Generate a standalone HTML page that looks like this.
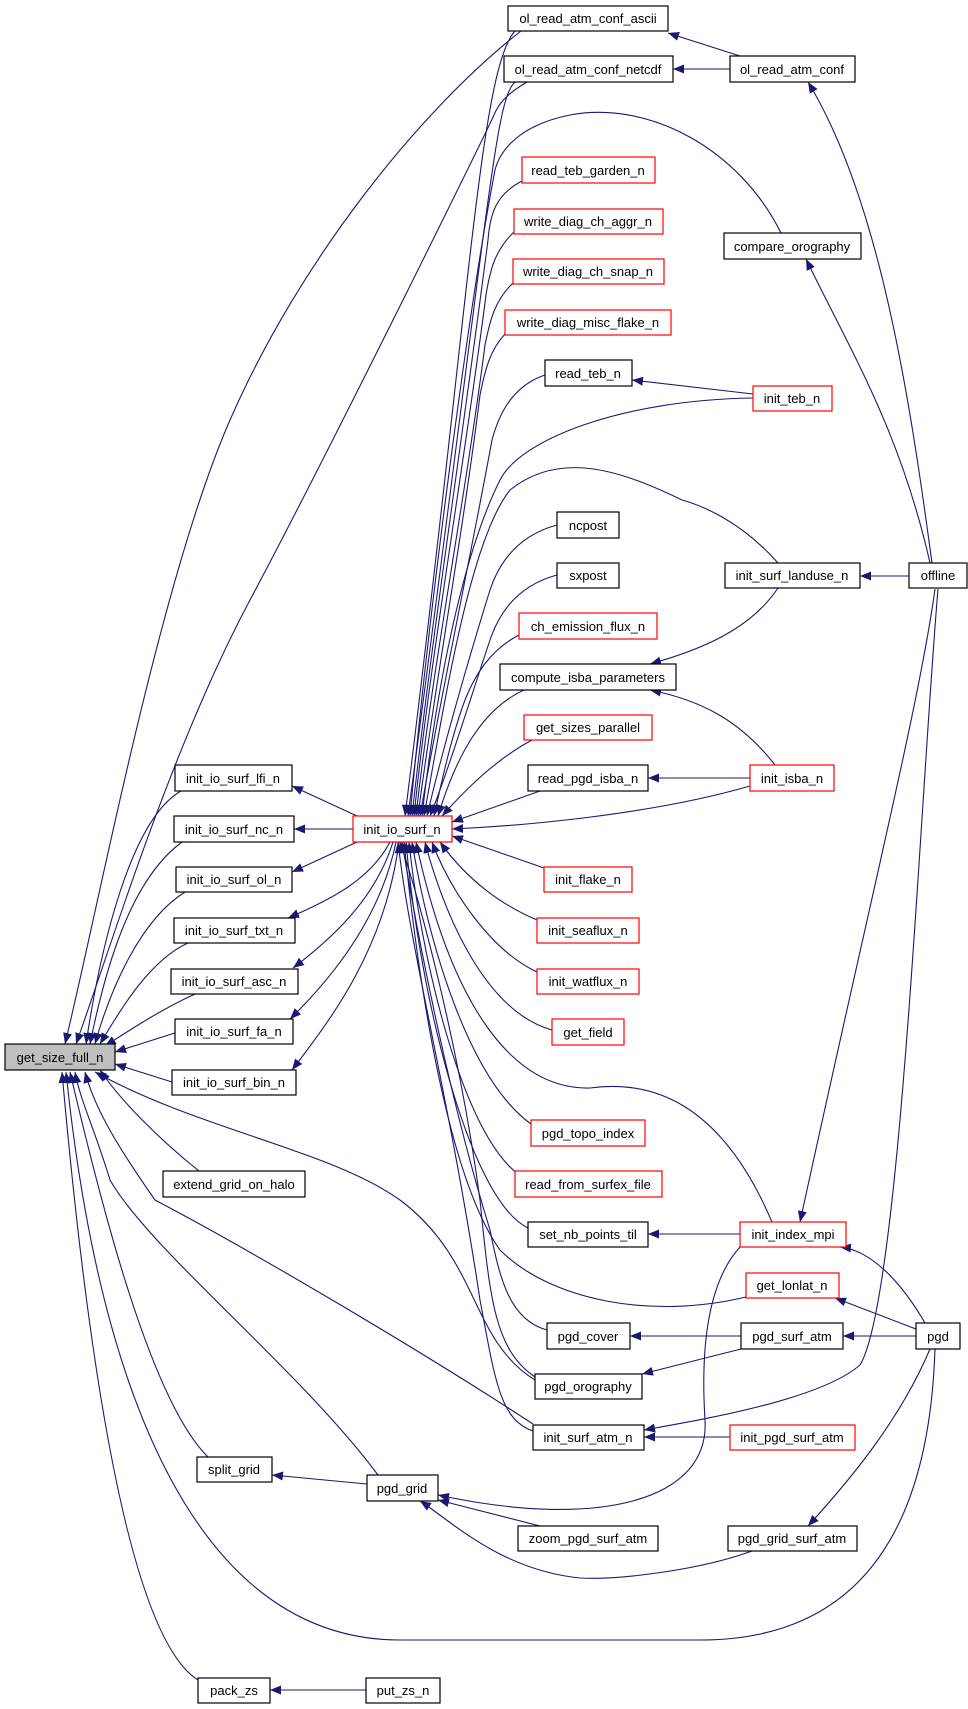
<!DOCTYPE html>
<html><head><meta charset="utf-8"><style>
html,body{margin:0;padding:0;background:#fff}
svg{display:block}
text{font-family:"Liberation Sans",Arial,sans-serif;font-size:13px;fill:#000}
.e{fill:none;stroke:#191970;stroke-width:1.1}
.n{fill:#fff;stroke:#000;stroke-width:1.2}
.r{fill:#fff;stroke:#ff0000;stroke-width:1.2}
.g{fill:#bfbfbf;stroke:#000;stroke-width:1.2}
</style></head><body>
<svg width="968" height="1709" viewBox="0 0 968 1709" xmlns="http://www.w3.org/2000/svg">
<defs><marker id="a" markerUnits="userSpaceOnUse" markerWidth="12" markerHeight="9" refX="11" refY="4.5" orient="auto"><path d="M0,0 L11,4.5 L0,9 z" fill="#191970"/></marker></defs>
<g class="e" marker-end="url(#a)">
<!-- to get_size_full_n -->
<path d="M521,31 C420,110 300,260 230,420 S100,900 65,1044"/>
<path d="M527,82 C505,95 498,105 494,115 S330,450 250,600 S110,950 76,1044"/>
<path d="M181,791 C130,820 100,950 86,1044"/>
<path d="M182,842 C130,880 105,970 90,1044"/>
<path d="M185,892 C140,920 110,990 95,1044"/>
<path d="M188,943 C150,960 120,1010 100,1044"/>
<path d="M195,994 C160,1010 130,1030 105,1046"/>
<path d="M175,1033 L115,1052"/>
<path d="M172,1082 L115,1064"/>
<path d="M199,1171 C160,1140 120,1100 100,1070"/>
<path d="M535,1380 C470,1340 480,1260 400,1200 C330,1150 200,1130 95,1072"/>
<path d="M533,1424 C420,1350 250,1250 155,1200 C120,1150 95,1110 85,1072"/>
<path d="M378,1475 C300,1370 150,1250 110,1180 C95,1130 80,1100 75,1072"/>
<path d="M208,1457 C150,1400 100,1200 70,1072"/>
<path d="M935,1349 C930,1500 880,1640 700,1640 L400,1640 C200,1640 100,1400 66,1072"/>
<path d="M198,1680 C150,1650 100,1500 62,1072"/>
<!-- to init_io_surf_n -->
<path d="M515,31 C480,70 470,300 405,816"/>
<path d="M515,82 C495,100 490,200 408,816"/>
<path d="M781,233 C740,150 650,100 570,115 C520,125 500,150 495,170 C470,300 430,600 410,816"/>
<path d="M522,181 C495,195 490,215 488,240 C465,420 430,650 412,816"/>
<path d="M514,232 C495,250 490,270 486,295 C465,460 430,660 414,816"/>
<path d="M513,283 C495,300 490,320 485,345 C465,500 432,670 416,816"/>
<path d="M505,334 C490,350 485,370 480,395 C462,540 434,690 418,816"/>
<path d="M545,375 C515,385 500,410 492,440 C470,560 440,700 420,816"/>
<path d="M753,398 C620,400 520,440 500,480 C460,560 435,700 422,816"/>
<path d="M778,563 C740,520 700,505 682,500 C620,470 560,450 510,490 C470,540 445,700 424,816"/>
<path d="M557,525 C520,535 500,560 490,590 C465,670 440,760 427,816"/>
<path d="M557,575 C520,585 500,610 490,640 C470,700 445,780 430,816"/>
<path d="M519,635 C490,650 475,675 465,700 C450,740 440,790 434,816"/>
<path d="M524,690 C480,710 455,760 438,816"/>
<path d="M532,740 C495,760 465,790 442,816"/>
<path d="M540,791 L452,822"/>
<path d="M750,786 C650,815 520,826 452,829"/>
<path d="M544,868 L452,836"/>
<path d="M537,920 C490,900 460,870 440,842"/>
<path d="M537,972 C490,950 450,890 432,842"/>
<path d="M552,1030 C480,1010 440,900 425,842"/>
<path d="M772,1222 C720,1100 650,1080 590,1088 C510,1090 450,1000 416,842"/>
<path d="M531,1124 C470,1080 430,950 412,842"/>
<path d="M518,1174 C460,1130 420,950 409,842"/>
<path d="M528,1228 C470,1200 420,1000 406,842"/>
<path d="M746,1297 C650,1320 550,1300 500,1250 C450,1180 420,1000 404,842"/>
<path d="M547,1330 C510,1320 500,1280 490,1230 C450,1100 420,950 402,842"/>
<path d="M535,1377 C495,1350 490,1300 480,1200 C460,1050 420,900 400,842"/>
<path d="M533,1431 C500,1420 495,1380 480,1300 C450,1100 410,950 398,842"/>
<!-- from init_io_surf_n -->
<path d="M357,816 L292,786"/>
<path d="M353,829 L294,829"/>
<path d="M357,842 L292,872"/>
<path d="M390,842 C370,880 330,900 288,918"/>
<path d="M393,842 C375,900 330,940 293,968"/>
<path d="M396,842 C380,920 330,980 290,1019"/>
<path d="M399,842 C385,950 330,1020 292,1070"/>
<!-- others -->
<path d="M740,56 L668,33"/>
<path d="M730,69 L673,69"/>
<path d="M932,563 C910,400 880,200 808,82"/>
<path d="M930,563 C900,430 850,350 806,259"/>
<path d="M753,394 L632,380"/>
<path d="M909,576 L860,576"/>
<path d="M778,588 C750,630 700,650 650,664"/>
<path d="M775,765 C740,720 700,700 650,690"/>
<path d="M750,778 L648,778"/>
<path d="M740,1234 L648,1234"/>
<path d="M935,589 C920,700 870,900 800,1222"/>
<path d="M925,1323 C900,1280 870,1250 840,1247"/>
<path d="M916,1329 L835,1298"/>
<path d="M916,1336 L843,1336"/>
<path d="M741,1336 L630,1336"/>
<path d="M741,1349 L642,1374"/>
<path d="M938,589 C920,800 900,1300 860,1365 C820,1400 700,1420 644,1430"/>
<path d="M730,1437 L644,1437"/>
<path d="M740,1247 C710,1280 700,1340 705,1420 C710,1500 600,1530 438,1495"/>
<path d="M540,1526 L438,1500"/>
<path d="M752,1551 C700,1570 620,1580 580,1578 C500,1570 450,1520 420,1501"/>
<path d="M930,1349 C900,1420 850,1480 808,1526"/>
<path d="M367,1484 L272,1475"/>
<path d="M366,1690 L270,1690"/>
</g>
<g text-anchor="middle">
<rect class="n" x="508" y="6" width="160" height="25"/><text x="588" y="23">ol_read_atm_conf_ascii</text>
<rect class="n" x="504" y="56" width="169" height="26"/><text x="588" y="74">ol_read_atm_conf_netcdf</text>
<rect class="n" x="730" y="56" width="125" height="26"/><text x="792" y="74">ol_read_atm_conf</text>
<rect class="r" x="522" y="157" width="133" height="26"/><text x="588" y="175">read_teb_garden_n</text>
<rect class="r" x="514" y="209" width="149" height="25"/><text x="588" y="226">write_diag_ch_aggr_n</text>
<rect class="r" x="513" y="259" width="151" height="25"/><text x="588" y="276">write_diag_ch_snap_n</text>
<rect class="r" x="505" y="310" width="166" height="25"/><text x="588" y="327">write_diag_misc_flake_n</text>
<rect class="n" x="545" y="360" width="87" height="26"/><text x="588" y="378">read_teb_n</text>
<rect class="r" x="753" y="386" width="79" height="25"/><text x="792" y="403">init_teb_n</text>
<rect class="n" x="724" y="233" width="137" height="26"/><text x="792" y="251">compare_orography</text>
<rect class="n" x="557" y="512" width="62" height="26"/><text x="588" y="530">ncpost</text>
<rect class="n" x="557" y="563" width="62" height="25"/><text x="588" y="580">sxpost</text>
<rect class="n" x="725" y="563" width="135" height="25"/><text x="792" y="580">init_surf_landuse_n</text>
<rect class="n" x="909" y="563" width="58" height="25"/><text x="938" y="580">offline</text>
<rect class="r" x="519" y="613" width="138" height="26"/><text x="588" y="631">ch_emission_flux_n</text>
<rect class="n" x="500" y="664" width="176" height="26"/><text x="588" y="682">compute_isba_parameters</text>
<rect class="r" x="524" y="715" width="128" height="25"/><text x="588" y="732">get_sizes_parallel</text>
<rect class="n" x="528" y="765" width="120" height="26"/><text x="588" y="783">read_pgd_isba_n</text>
<rect class="r" x="750" y="765" width="84" height="26"/><text x="792" y="783">init_isba_n</text>
<rect class="r" x="353" y="816" width="99" height="26"/><text x="402" y="834">init_io_surf_n</text>
<rect class="n" x="175" y="765" width="117" height="26"/><text x="233" y="783">init_io_surf_lfi_n</text>
<rect class="n" x="174" y="816" width="120" height="26"/><text x="234" y="834">init_io_surf_nc_n</text>
<rect class="n" x="176" y="867" width="116" height="25"/><text x="234" y="884">init_io_surf_ol_n</text>
<rect class="n" x="174" y="918" width="121" height="25"/><text x="234" y="935">init_io_surf_txt_n</text>
<rect class="n" x="171" y="969" width="127" height="25"/><text x="234" y="986">init_io_surf_asc_n</text>
<rect class="n" x="175" y="1019" width="118" height="25"/><text x="234" y="1036">init_io_surf_fa_n</text>
<rect class="n" x="172" y="1070" width="124" height="25"/><text x="234" y="1087">init_io_surf_bin_n</text>
<rect class="g" x="5" y="1044" width="110" height="26"/><text x="60" y="1062">get_size_full_n</text>
<rect class="r" x="544" y="867" width="88" height="25"/><text x="588" y="884">init_flake_n</text>
<rect class="r" x="537" y="918" width="102" height="25"/><text x="588" y="935">init_seaflux_n</text>
<rect class="r" x="537" y="969" width="102" height="25"/><text x="588" y="986">init_watflux_n</text>
<rect class="r" x="552" y="1019" width="72" height="26"/><text x="588" y="1037">get_field</text>
<rect class="r" x="531" y="1120" width="114" height="26"/><text x="588" y="1138">pgd_topo_index</text>
<rect class="r" x="515" y="1171" width="147" height="26"/><text x="588" y="1189">read_from_surfex_file</text>
<rect class="n" x="163" y="1171" width="142" height="26"/><text x="234" y="1189">extend_grid_on_halo</text>
<rect class="n" x="528" y="1222" width="120" height="25"/><text x="588" y="1239">set_nb_points_til</text>
<rect class="r" x="740" y="1222" width="106" height="25"/><text x="793" y="1239">init_index_mpi</text>
<rect class="r" x="746" y="1273" width="93" height="25"/><text x="792" y="1290">get_lonlat_n</text>
<rect class="n" x="547" y="1323" width="83" height="26"/><text x="588" y="1341">pgd_cover</text>
<rect class="n" x="741" y="1323" width="102" height="26"/><text x="792" y="1341">pgd_surf_atm</text>
<rect class="n" x="916" y="1323" width="44" height="26"/><text x="938" y="1341">pgd</text>
<rect class="n" x="535" y="1374" width="107" height="25"/><text x="588" y="1391">pgd_orography</text>
<rect class="n" x="533" y="1425" width="111" height="25"/><text x="588" y="1442">init_surf_atm_n</text>
<rect class="r" x="730" y="1425" width="125" height="25"/><text x="792" y="1442">init_pgd_surf_atm</text>
<rect class="n" x="197" y="1457" width="75" height="25"/><text x="234" y="1474">split_grid</text>
<rect class="n" x="367" y="1475" width="71" height="26"/><text x="402" y="1493">pgd_grid</text>
<rect class="n" x="518" y="1526" width="140" height="25"/><text x="588" y="1543">zoom_pgd_surf_atm</text>
<rect class="n" x="728" y="1526" width="129" height="25"/><text x="792" y="1543">pgd_grid_surf_atm</text>
<rect class="n" x="198" y="1678" width="72" height="25"/><text x="234" y="1695">pack_zs</text>
<rect class="n" x="366" y="1678" width="74" height="25"/><text x="403" y="1695">put_zs_n</text>
</g>
</svg>
</body></html>
